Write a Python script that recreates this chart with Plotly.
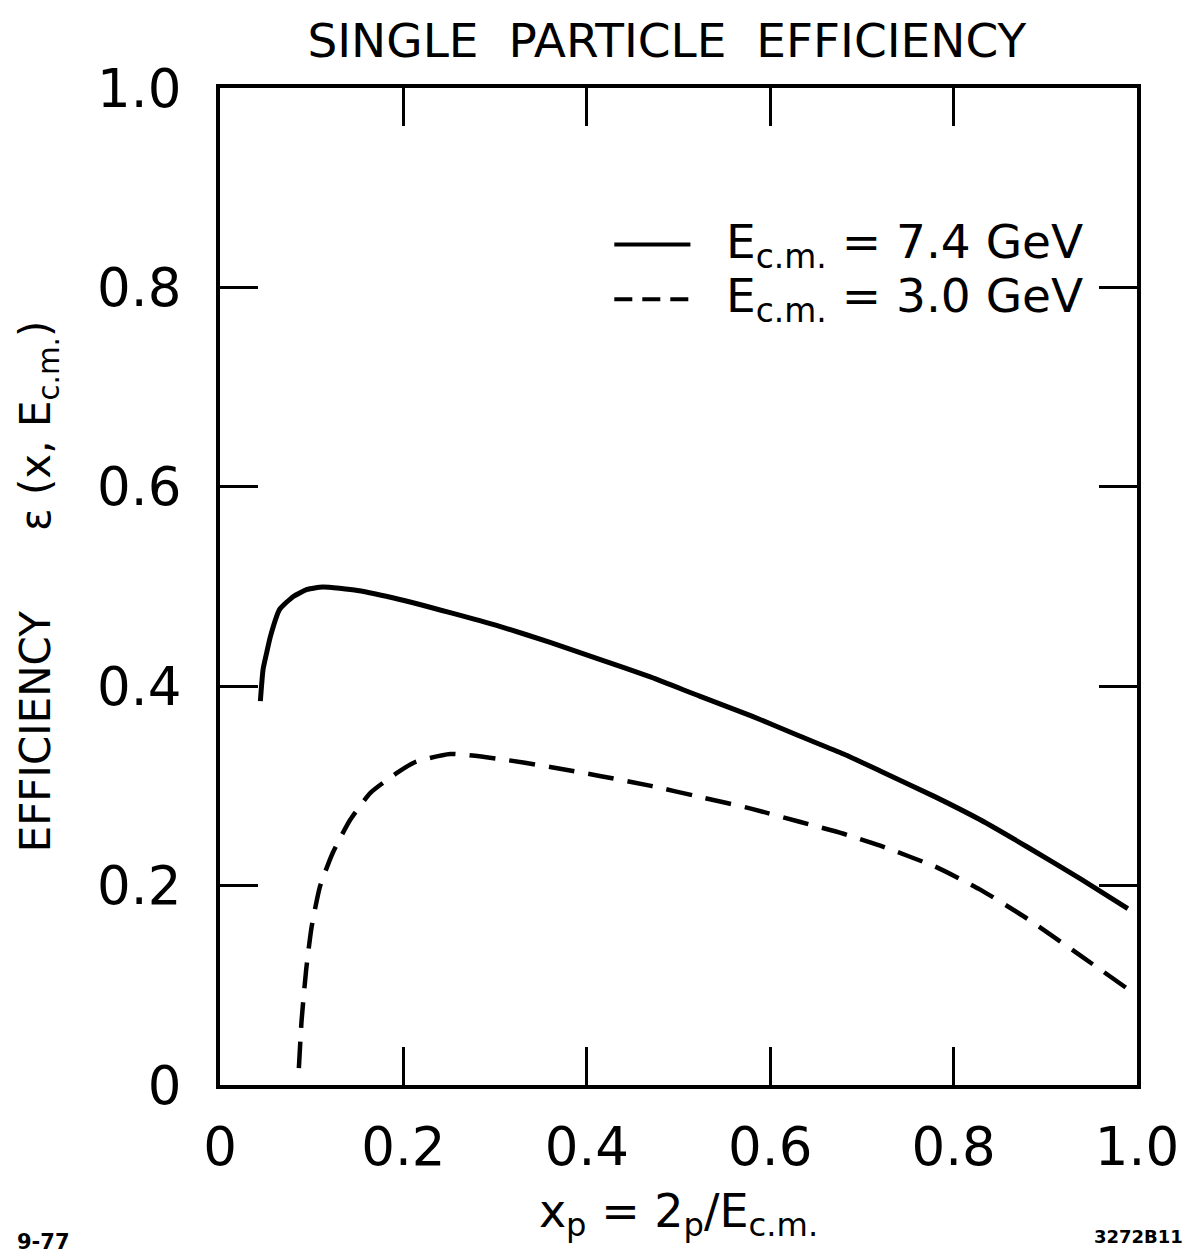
import plotly.graph_objects as go

# ---- data ----
x_74 = [0.044, 0.047, 0.051, 0.055, 0.065, 0.080, 0.095, 0.112, 0.150, 0.196, 0.250, 0.305,
        0.360, 0.414, 0.470, 0.523, 0.580, 0.632, 0.680, 0.720, 0.780, 0.829, 0.880, 0.938, 0.990]
y_74 = [0.385, 0.417, 0.434, 0.450, 0.477, 0.490, 0.497, 0.4995, 0.496, 0.487, 0.474, 0.460,
        0.444, 0.427, 0.409, 0.390, 0.370, 0.350, 0.332, 0.315, 0.289, 0.266, 0.239, 0.207, 0.177]

x_30 = [0.086, 0.089, 0.094, 0.100, 0.109, 0.123, 0.142, 0.164, 0.193, 0.213, 0.251, 0.305,
        0.360, 0.414, 0.470, 0.523, 0.580, 0.632, 0.680, 0.720, 0.780, 0.829, 0.880, 0.938, 0.989]
y_30 = [0.017, 0.065, 0.116, 0.159, 0.199, 0.233, 0.266, 0.293, 0.313, 0.324, 0.332, 0.327,
        0.319, 0.310, 0.300, 0.289, 0.277, 0.264, 0.252, 0.240, 0.219, 0.196, 0.167, 0.130, 0.097]

tick_vals = [0, 0.2, 0.4, 0.6, 0.8, 1.0]
tick_text = ["0", "0.2", "0.4", "0.6", "0.8", "1.0"]

FONT = "DejaVu Sans"

fig = go.Figure()
fig.add_trace(go.Scatter(x=x_74, y=y_74, mode="lines",
                         line=dict(color="black", width=5, shape="spline", smoothing=0.5),
                         showlegend=False))
fig.add_trace(go.Scatter(x=x_30, y=y_30, mode="lines",
                         line=dict(color="black", width=4.5, dash="26px,14px", shape="spline", smoothing=0.5),
                         showlegend=False))

axis_common = dict(range=[0, 1], tickvals=tick_vals, ticktext=tick_text,
                   ticks="inside", ticklen=38, tickwidth=3, tickcolor="black",
                   showline=True, linecolor="black", linewidth=4, mirror="ticks",
                   showgrid=False, zeroline=False,
                   tickfont=dict(family=FONT, size=53, color="black"))

fig.update_xaxes(**axis_common, ticklabelstandoff=12,
                 title=dict(text="x<sub>p</sub> = 2<sub>p</sub>/E<sub>c.m.</sub>",
                            font=dict(family=FONT, size=46, color="black"), standoff=20))
fig.update_yaxes(**axis_common, ticklabelstandoff=24,
                 title=dict(text="EFFICIENCY      \u03b5 (x, E<sub>c.m.</sub>)",
                            font=dict(family=FONT, size=42, color="black"), standoff=34))

# legend drawn as layout shapes + text
fig.add_shape(type="line", xref="paper", yref="paper", x0=0.43, x1=0.513, y0=0.843, y1=0.843,
              line=dict(color="black", width=4))
fig.add_shape(type="line", xref="paper", yref="paper", x0=0.43, x1=0.513, y0=0.788, y1=0.788,
              line=dict(color="black", width=4, dash="18px,10px"))
fig.add_annotation(xref="paper", yref="paper", x=0.550, y=0.843, xanchor="left", yanchor="middle",
                   text="E<sub>c.m.</sub> = 7.4 GeV", showarrow=False,
                   font=dict(family=FONT, size=47, color="black"))
fig.add_annotation(xref="paper", yref="paper", x=0.550, y=0.788, xanchor="left", yanchor="middle",
                   text="E<sub>c.m.</sub> = 3.0 GeV", showarrow=False,
                   font=dict(family=FONT, size=47, color="black"))

# footnotes
fig.add_annotation(xref="paper", yref="paper", x=-0.224, y=-0.157, xanchor="left", yanchor="middle",
                   text="<b>9-77</b>", showarrow=False, font=dict(family=FONT, size=21, color="black"))
fig.add_annotation(xref="paper", yref="paper", x=1.052, y=-0.152, xanchor="right", yanchor="middle",
                   text="<b>3272B11</b>", showarrow=False, font=dict(family=FONT, size=18, color="black"))

fig.update_layout(
    width=1195, height=1256,
    margin=dict(l=220, r=58, t=88, b=171),
    paper_bgcolor="white", plot_bgcolor="white",
    title=dict(text="SINGLE&nbsp; PARTICLE&nbsp; EFFICIENCY", x=0.558, xanchor="center", y=0.968,
               yanchor="middle", font=dict(family=FONT, size=47, color="black")),
)

fig.write_html("out.html")
